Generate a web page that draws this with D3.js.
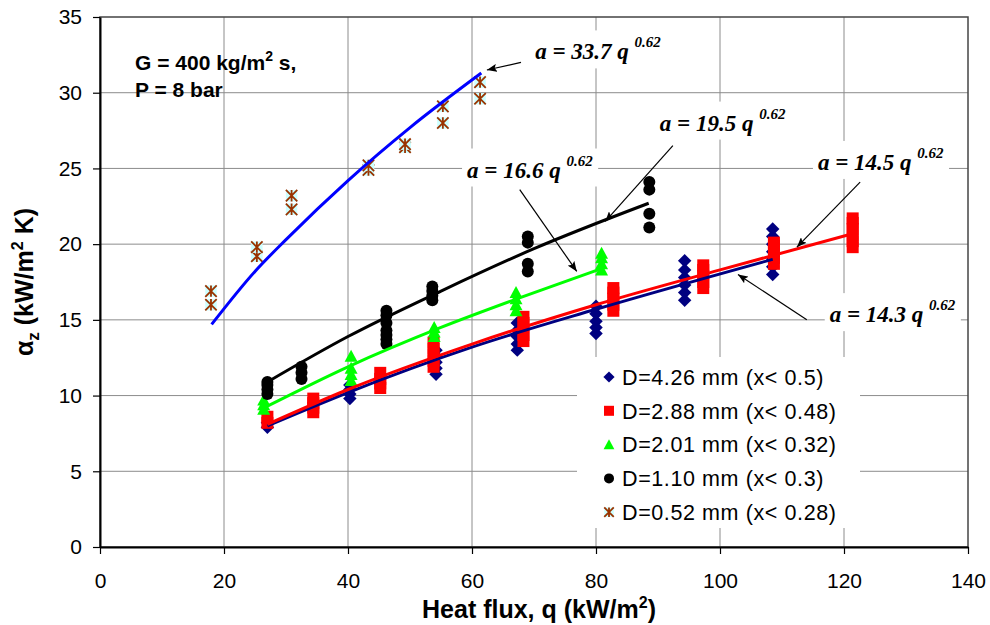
<!DOCTYPE html>
<html>
<head>
<meta charset="utf-8">
<script src="https://cdn.jsdelivr.net/npm/d3@7"></script>
<style>
  body { margin: 0; background: #fff; }
  svg { display: block; font-family: "Liberation Sans", Arial, sans-serif; }
</style>
</head>
<body>
<svg id="chart" width="990" height="625"></svg>
<script>
// axis ticks
var xTicks = [0, 20, 40, 60, 80, 100, 120, 140];
var yTicks = [0, 5, 10, 15, 20, 25, 30, 35];

// measured points: [heat flux q, [alpha values at that q]]
var d426 = [
  [27, [7.9, 8.2]],
  [40.3, [9.8, 10.1, 10.4, 10.7]],
  [54.2, [11.4, 11.8, 12.2, 12.6, 13.0]],
  [67.3, [13.0, 13.4, 13.9, 14.3, 14.8]],
  [80, [14.1, 14.5, 14.9, 15.4, 15.9]],
  [94.3, [16.3, 16.8, 17.3, 17.8, 18.3, 18.9]],
  [108.5, [18.0, 18.5, 19.0, 19.5, 20.0, 20.5, 21.0]]
];
var d288 = [
  [27, [8.2, 8.6]],
  [34.4, [8.9, 9.2, 9.5, 9.8]],
  [45.2, [10.5, 10.8, 11.1, 11.5]],
  [53.8, [11.9, 12.3, 12.7, 13.1, 13.5]],
  [68.3, [13.6, 14.0, 14.4, 14.8, 15.2]],
  [82.8, [15.6, 16.0, 16.4, 16.8, 17.1]],
  [97.3, [17.1, 17.5, 17.9, 18.3, 18.6]],
  [108.7, [18.7, 19.1, 19.5, 19.9, 20.1]],
  [121.4, [19.8, 20.2, 20.6, 21.0, 21.4, 21.7]]
];
var d201 = [
  [26.4, [9.1, 9.4, 9.7]],
  [40.5, [11.0, 11.4, 11.8, 12.6]],
  [53.9, [13.9, 14.2, 14.5]],
  [67.1, [15.6, 16.0, 16.4, 16.8]],
  [80.9, [18.3, 18.7, 19.1, 19.4]]
];
var d110 = [
  [27, [10.1, 10.4, 10.7, 10.9]],
  [32.5, [11.1, 11.5, 11.9]],
  [46.2, [13.4, 13.7, 14.0, 14.3, 14.8, 15.3, 15.6]],
  [53.6, [16.3, 16.6, 16.9, 17.2]],
  [69, [18.2, 18.7, 20.1, 20.5]],
  [88.6, [21.1, 22.0, 23.6, 24.1]]
];
var d052 = [
  [17.9, [16.0, 16.9]],
  [25.3, [19.2, 19.8]],
  [30.9, [22.3, 23.2]],
  [43.3, [24.9, 25.2]],
  [49.2, [26.4, 26.6]],
  [55.3, [28.0, 29.1]],
  [61.3, [29.6, 30.7]]
];

// correlation curves: [q, alpha]
var fit426 = [[27, 8.0], [40, 10.2], [60, 13.2], [80, 15.7], [108.5, 19.0]];
var fit288 = [[27, 8.1], [40, 10.4], [60, 13.4], [80, 16.0], [100, 18.3], [121.5, 20.7]];
var fit201 = [[26.5, 9.2], [40, 11.9], [55, 14.5], [68, 16.5], [81, 18.4]];
var fit110 = [[27, 10.9], [40, 13.9], [55, 16.9], [70, 19.7], [88.5, 22.7]];
var fit052 = [[18, 14.7], [25, 18.2], [30, 20.3], [40, 24.2], [50, 27.7], [61.5, 31.3]];

var seriesNames = [
  "D=4.26 mm (x< 0.5)",
  "D=2.88 mm (x< 0.48)",
  "D=2.01 mm (x< 0.32)",
  "D=1.10 mm (x< 0.3)",
  "D=0.52 mm (x< 0.28)"
];
var fitCoefs = ["14.3", "14.5", "16.6", "19.5", "33.7"];

// ---- drawing ----
var svg = d3.select("#chart");
var x = d3.scaleLinear().domain([0, 140]).range([100, 968]);
var y = d3.scaleLinear().domain([0, 35]).range([547, 17]);

var series = [
  { pts: d426, fit: fit426, shape: "diamond", color: "#000080" },
  { pts: d288, fit: fit288, shape: "square", color: "#ff0000" },
  { pts: d201, fit: fit201, shape: "triangle", color: "#00ff00" },
  { pts: d110, fit: fit110, shape: "circle", color: "#000000" },
  { pts: d052, fit: fit052, shape: "star", color: "#993300" }
];
var fitColors = ["#000080", "#ff0000", "#00ff00", "#000000", "#0000ff"];

// where each equation sits (data units) and where its arrow points
var notes = [
  { coef: 0, tx: 117.7, ty: 14.85, from: [114.0, 15.0], to: [102.9, 18.0] },
  { coef: 1, tx: 115.8, ty: 24.9, from: [122.6, 24.1], to: [112.4, 19.8] },
  { coef: 2, tx: 59.2, ty: 24.4, from: [67.7, 23.6], to: [76.9, 18.2] },
  { coef: 3, tx: 90.3, ty: 27.5, from: [92.4, 26.5], to: [81.5, 21.5] },
  { coef: 4, tx: 70.2, ty: 32.2, from: [67.9, 32.0], to: [62.4, 31.5] }
];

svg.append("defs").append("marker")
  .attr("id", "arrow")
  .attr("viewBox", "0 0 10 8")
  .attr("refX", 10).attr("refY", 4)
  .attr("markerWidth", 10).attr("markerHeight", 8)
  .attr("markerUnits", "userSpaceOnUse")
  .attr("orient", "auto")
  .append("path").attr("d", "M0,0 L10,4 L0,8 L2,4 Z").attr("fill", "#000");

// gridlines
var grid = svg.append("g").attr("stroke", "#8c8c8c").attr("stroke-width", 1);
grid.selectAll(".gx").data(xTicks.slice(1, -1)).join("line")
  .attr("x1", function(d) { return x(d); }).attr("x2", function(d) { return x(d); })
  .attr("y1", y(0)).attr("y2", y(35));
grid.selectAll(".gy").data(yTicks.slice(1, -1)).join("line")
  .attr("x1", x(0)).attr("x2", x(140))
  .attr("y1", function(d) { return y(d); }).attr("y2", function(d) { return y(d); });

// white boxes behind the equations and the legend
var boxLayer = svg.append("g");
var pointLayer = svg.append("g");
var lineLayer = svg.append("g");
var textLayer = svg.append("g");

function drawMarker(g, shape, color, s) {
  var h = s / 2;
  if (shape === "diamond") {
    h = h * 1.12;
    g.append("path").attr("d", "M0," + (-h) + "L" + h + ",0L0," + h + "L" + (-h) + ",0Z").attr("fill", color);
  } else if (shape === "square") {
    g.append("rect").attr("x", -h).attr("y", -h).attr("width", s).attr("height", s).attr("fill", color);
  } else if (shape === "triangle") {
    h = h * 1.08;
    g.append("path").attr("d", "M0," + (-h) + "L" + h + "," + h * 0.85 + "L" + (-h) + "," + h * 0.85 + "Z").attr("fill", color);
  } else if (shape === "circle") {
    g.append("circle").attr("r", h).attr("fill", color);
  } else {
    var b = h * 0.95;
    g.append("rect").attr("x", -b).attr("y", -b).attr("width", 2 * b).attr("height", 2 * b).attr("fill", "#ccffff");
    g.append("path")
      .attr("d", "M" + (-b) + "," + (-b) + "L" + b + "," + b + "M" + b + "," + (-b) + "L" + (-b) + "," + b + "M0," + (-b) + "L0," + b)
      .attr("stroke", color).attr("stroke-width", 1.8).attr("fill", "none");
  }
}

series.forEach(function(s) {
  var flat = [];
  s.pts.forEach(function(p) { p[1].forEach(function(v) { flat.push([p[0], v]); }); });
  flat.forEach(function(p) {
    var g = pointLayer.append("g").attr("transform", "translate(" + x(p[0]) + "," + y(p[1]) + ")");
    drawMarker(g, s.shape, s.color, 12);
  });
});

var line = d3.line()
  .x(function(d) { return x(d[0]); })
  .y(function(d) { return y(d[1]); })
  .curve(d3.curveMonotoneX);

series.forEach(function(s, i) {
  lineLayer.append("path")
    .datum(s.fit)
    .attr("d", line)
    .attr("fill", "none")
    .attr("stroke", fitColors[i])
    .attr("stroke-width", 3);
});

// plot border and axes
svg.append("rect")
  .attr("x", x(0)).attr("y", y(35))
  .attr("width", x(140) - x(0)).attr("height", y(0) - y(35))
  .attr("fill", "none").attr("stroke", "#444").attr("stroke-width", 1.5);

var xAxis = svg.append("g")
  .attr("transform", "translate(0," + y(0) + ")")
  .call(d3.axisBottom(x).tickValues(xTicks).tickSizeInner(7).tickSizeOuter(0).tickPadding(19));
var yAxis = svg.append("g")
  .attr("transform", "translate(" + x(0) + ",0)")
  .call(d3.axisLeft(y).tickValues(yTicks).tickSizeInner(7).tickSizeOuter(0).tickPadding(11));
[xAxis, yAxis].forEach(function(a) {
  a.select(".domain").attr("stroke", "#000").attr("stroke-width", 2);
  a.selectAll(".tick line").attr("stroke", "#000").attr("stroke-width", 1.2);
  a.selectAll(".tick text").attr("font-family", "Liberation Sans, Arial, sans-serif")
    .attr("font-size", 21).attr("fill", "#000");
});

// axis titles
var xt = svg.append("text")
  .attr("x", 539).attr("y", 618)
  .attr("text-anchor", "middle")
  .attr("font-weight", "bold").attr("font-size", 25);
xt.append("tspan").text("Heat flux, q (kW/m");
xt.append("tspan").attr("font-size", 16).attr("dy", -10).text("2");
xt.append("tspan").attr("dy", 10).text(")");

var yt = svg.append("text")
  .attr("transform", "translate(33," + ((y(0) + y(35)) / 2) + ") rotate(-90)")
  .attr("text-anchor", "middle")
  .attr("font-weight", "bold").attr("font-size", 25);
yt.append("tspan").text("\u03b1");
yt.append("tspan").attr("font-size", 17).attr("dy", 6).text("z");
yt.append("tspan").attr("dy", -6).text(" (kW/m");
yt.append("tspan").attr("font-size", 16).attr("dy", -10).text("2");
yt.append("tspan").attr("dy", 10).text(" K)");

// conditions label
var cond = textLayer.append("text")
  .attr("x", 135).attr("y", 70)
  .attr("font-weight", "bold").attr("font-size", 21);
cond.append("tspan").text("G = 400 kg/m");
cond.append("tspan").attr("font-size", 14).attr("dy", -9).text("2");
cond.append("tspan").attr("dy", 9).text(" s,");
textLayer.append("text")
  .attr("x", 135).attr("y", 97)
  .attr("font-weight", "bold").attr("font-size", 21)
  .text("P = 8 bar");

// equations with arrows
notes.forEach(function(n) {
  var t = textLayer.append("text")
    .attr("x", x(n.tx)).attr("y", y(n.ty))
    .attr("font-family", "Liberation Serif, Times New Roman, serif")
    .attr("font-style", "italic").attr("font-weight", "bold")
    .attr("font-size", 23);
  t.append("tspan").text("a = " + fitCoefs[n.coef] + " q ");
  t.append("tspan").attr("font-size", 15).attr("dy", -12).text("0.62");
  var bb = t.node().getBBox();
  boxLayer.append("rect")
    .attr("x", bb.x - 5).attr("y", bb.y - 4)
    .attr("width", bb.width + 10).attr("height", bb.height + 8)
    .attr("fill", "#fff");
  textLayer.append("line")
    .attr("x1", x(n.from[0])).attr("y1", y(n.from[1]))
    .attr("x2", x(n.to[0])).attr("y2", y(n.to[1]))
    .attr("stroke", "#000").attr("stroke-width", 1.2)
    .attr("marker-end", "url(#arrow)");
});

// legend
boxLayer.append("rect")
  .attr("x", 577).attr("y", 357).attr("width", 283).attr("height", 171)
  .attr("fill", "#fff");
var legend = textLayer.append("g");
seriesNames.forEach(function(name, i) {
  var ly = 377 + i * 33.8;
  var g = legend.append("g").attr("transform", "translate(609," + ly + ")");
  drawMarker(g, series[i].shape, series[i].color, 10);
  legend.append("text")
    .attr("x", 622).attr("y", ly)
    .attr("dy", "0.36em")
    .attr("font-size", 21.5)
    .attr("letter-spacing", 0.6)
    .text(name);
});
</script>
</body>
</html>
